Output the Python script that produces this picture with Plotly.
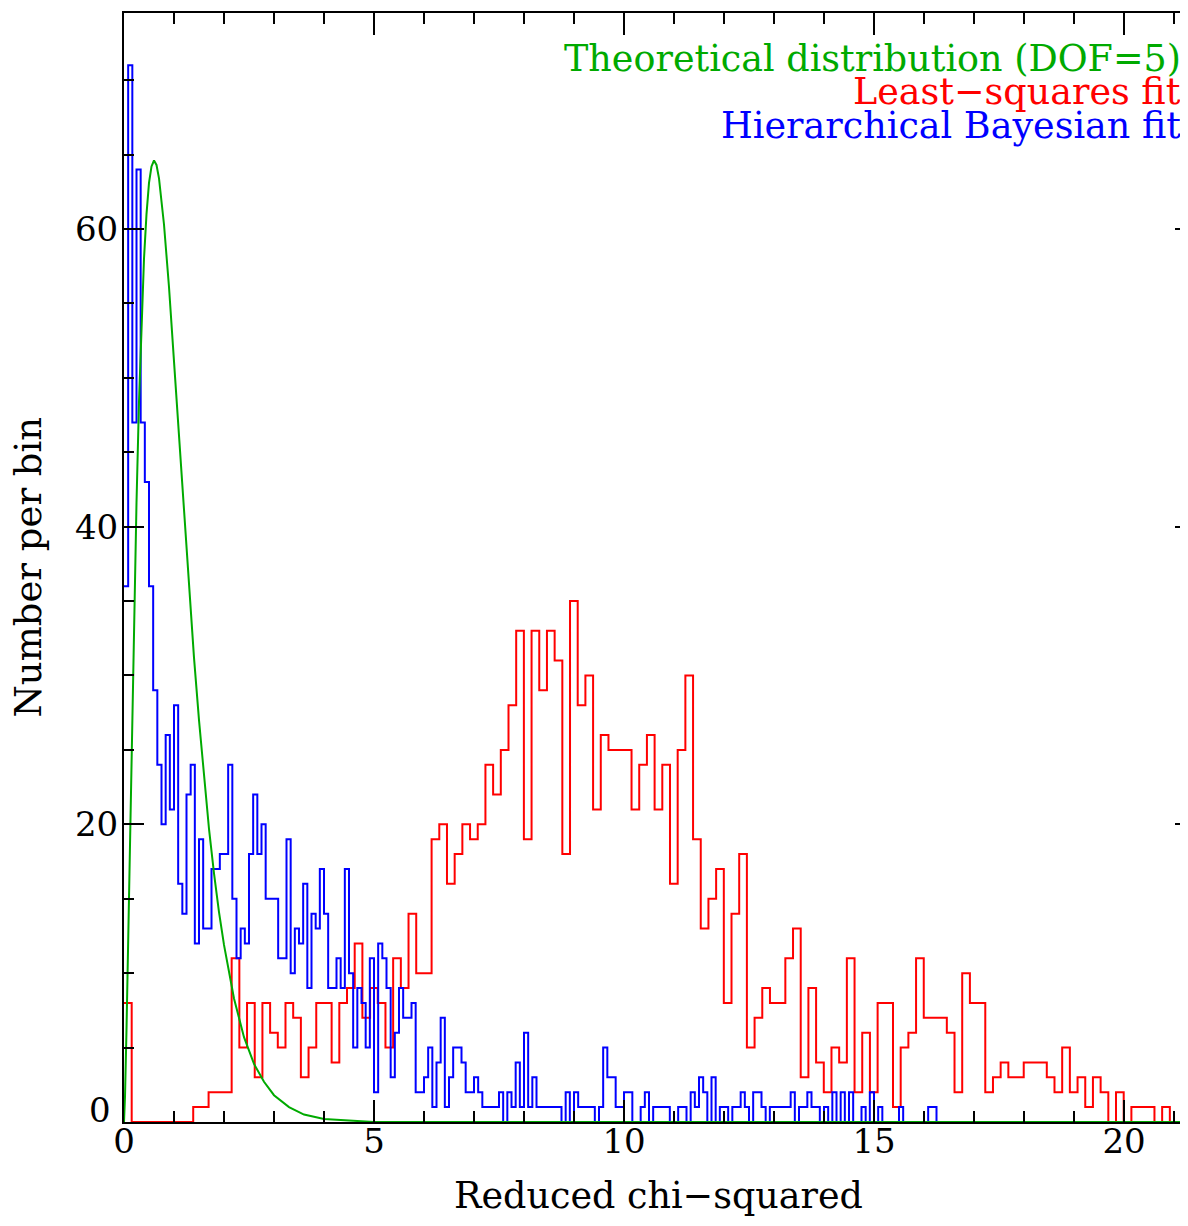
import plotly.graph_objects as go

# ---------------- data ----------------
RED_BIN = 0.1538      # bin width of least-squares histogram
BLUE_BIN = 1.0 / 12   # bin width of hierarchical Bayesian histogram

red_counts = [
    8, 0, 0, 0, 0, 0, 0, 0, 0, 1,
    1, 2, 2, 2, 11, 5, 8, 3, 8, 6,
    5, 8, 7, 3, 5, 8, 8, 4, 8, 9,
    12, 7, 9, 8, 5, 11, 9, 14, 10, 10,
    19, 20, 16, 18, 20, 19, 20, 24, 22, 25,
    28, 33, 19, 33, 29, 33, 31, 18, 35, 28,
    30, 21, 26, 25, 25, 25, 21, 24, 26, 21,
    24, 16, 25, 30, 19, 13, 15, 17, 8, 14,
    18, 5, 7, 9, 8, 8, 11, 13, 3, 9,
    4, 2, 5, 4, 11, 2, 6, 2, 8, 8,
    1, 5, 6, 11, 7, 7, 7, 6, 2, 10,
    8, 8, 2, 3, 4, 3, 3, 4, 4, 4,
    3, 2, 5, 2, 3, 1, 3, 2, 0, 2,
    0, 1, 1, 1, 0, 1, 0, 0, 0,
]

blue_counts = [
    36, 71, 47, 64, 47, 43, 36, 29, 24, 20,
    26, 21, 28, 16, 14, 22, 24, 12, 19, 13,
    13, 17, 17, 18, 18, 24, 15, 11, 13, 12,
    18, 22, 18, 20, 15, 15, 15, 11, 11, 19,
    10, 13, 12, 16, 9, 14, 13, 17, 14, 9,
    9, 11, 9, 17, 10, 5, 9, 8, 5, 11,
    2, 12, 11, 9, 3, 6, 9, 7, 7, 8,
    2, 2, 3, 5, 1, 4, 7, 1, 3, 5,
    5, 4, 2, 2, 3, 2, 1, 1, 1, 1,
    2, 0, 2, 1, 4, 1, 6, 1, 3, 1,
    1, 1, 1, 1, 1, 0, 2, 0, 2, 1,
    1, 1, 1, 0, 1, 5, 3, 3, 1, 1,
    2, 2, 0, 0, 1, 2, 0, 1, 1, 1,
    1, 0, 0, 1, 1, 0, 2, 1, 3, 2,
    0, 3, 0, 1, 1, 0, 1, 1, 2, 1,
    0, 2, 2, 1, 0, 1, 1, 1, 1, 1,
    2, 0, 1, 1, 2, 1, 1, 0, 1, 0,
    2, 0, 2, 0, 2, 0, 0, 1, 0, 2,
    0, 1, 0, 0, 0, 0, 1, 0, 0, 0,
    0, 0, 0, 1, 1, 0,
]

# theoretical curve (DOF=5)
theory_x = [0.00, 0.02, 0.05, 0.10, 0.15, 0.20, 0.25, 0.30, 0.35, 0.40,
            0.45, 0.50, 0.55, 0.60, 0.65, 0.70, 0.80, 0.90, 1.00, 1.10,
            1.20, 1.30, 1.40, 1.50, 1.60, 1.70, 1.80, 1.90, 2.00, 2.20,
            2.40, 2.60, 2.80, 3.00, 3.30, 3.60, 4.00, 4.50, 5.00, 21.3]
theory_y = [0.0, 1.7, 6.2, 15.3, 24.9, 33.8, 41.6, 48.4, 53.7, 58.0,
            61.0, 63.1, 64.2, 64.6, 64.3, 63.4, 60.3, 56.1, 51.1, 46.0,
            40.8, 35.9, 31.2, 27.0, 23.1, 19.7, 16.7, 14.1, 11.9, 8.3,
            5.7, 3.9, 2.7, 1.8, 1.0, 0.5, 0.2, 0.1, 0.0, 0.0]

x_ticks = [0, 5, 10, 15, 20]
y_ticks = [0, 20, 40, 60]
legend_labels = ["Theoretical distribution (DOF=5)", "Least\u2212squares fit",
                 "Hierarchical Bayesian fit"]
x_title = "Reduced chi\u2212squared"
y_title = "Number per bin"

X_MAX = 21.28
Y_MAX = 74.51

# ---------------- build step outlines ----------------
def steps(counts, width):
    xs = [i * width for i in range(len(counts) + 1)]
    ys = list(counts) + [counts[-1]]
    return xs, ys

rx, ry = steps(red_counts, RED_BIN)
rx.append(X_MAX + 1)
ry.append(0)
bx, by = steps(blue_counts, BLUE_BIN)

GREEN = "#00AA00"
FONT = "DejaVu Serif"

fig = go.Figure()
fig.add_trace(go.Scatter(x=rx, y=ry, mode="lines", line=dict(color="#FF0000", width=2, shape="hv"),
                         showlegend=False, hoverinfo="skip"))
fig.add_trace(go.Scatter(x=bx, y=by, mode="lines", line=dict(color="#0000FF", width=2, shape="hv"),
                         showlegend=False, hoverinfo="skip"))
fig.add_trace(go.Scatter(x=theory_x, y=theory_y, mode="lines", line=dict(color=GREEN, width=2),
                         showlegend=False, hoverinfo="skip"))
# carrier for the right-hand tick axis
fig.add_trace(go.Scatter(x=[theory_x[0]], y=[theory_y[0]], yaxis="y2", mode="markers",
                         marker=dict(opacity=0), showlegend=False, hoverinfo="skip"))

axis_font = dict(family=FONT, size=34, color="black")

# y tick labels: the lowest one ("0") is drawn lifted and to the left, as in the reference
y_lab_vals = y_ticks[1:]

# the page body has an 8 px margin, so the figure is 8 px smaller than the window
fig.update_layout(
    width=1180, height=1218,
    margin=dict(l=116, r=0, t=5, b=104),
    paper_bgcolor="white", plot_bgcolor="white",
    font=dict(family=FONT, color="black"),
    xaxis=dict(range=[0, X_MAX], tickvals=x_ticks, ticktext=[str(v) for v in x_ticks],
               showline=True, linecolor="black", linewidth=2, mirror="ticks",
               ticks="inside", ticklen=22, tickwidth=2, tickcolor="black",
               minor=dict(ticks="inside", ticklen=11, tickwidth=2, tickcolor="black", dtick=1),
               showgrid=False, zeroline=False, tickfont=axis_font, ticklabelstandoff=-12),
    yaxis=dict(range=[0, Y_MAX], tickvals=y_lab_vals, ticktext=[str(v) for v in y_lab_vals],
               showline=True, linecolor="black", linewidth=2, mirror=False,
               ticks="inside", ticklen=20, tickwidth=2, tickcolor="black",
               minor=dict(ticks="inside", ticklen=10, tickwidth=2, tickcolor="black", dtick=5),
               showgrid=False, zeroline=False, tickfont=axis_font, ticklabelstandoff=-3),
    yaxis2=dict(range=[0, Y_MAX], overlaying="y", side="right", showline=False,
                tickvals=y_ticks, showticklabels=False,
                ticks="inside", ticklen=13, tickwidth=2, tickcolor="black",
                minor=dict(ticks="inside", ticklen=3, tickwidth=2, tickcolor="black", dtick=5),
                showgrid=False, zeroline=False),
)

fig.add_annotation(text=str(y_ticks[0]), xref="paper", yref="y", x=0, y=y_ticks[0],
                   xanchor="center", yanchor="middle", xshift=-24, yshift=12,
                   showarrow=False, font=axis_font)

legend_colors = [GREEN, "#FF0000", "#0000FF"]
legend_y = [0.9594, 0.9288, 0.8990]
for txt, col, yy in zip(legend_labels, legend_colors, legend_y):
    fig.add_annotation(text=txt, xref="paper", yref="paper", x=0.9953, y=yy,
                       xanchor="right", yanchor="middle", showarrow=False,
                       font=dict(family=FONT, size=36.5, color=col))

fig.add_annotation(text=x_title, xref="paper", yref="paper", x=0.5023, y=0,
                   xanchor="center", yanchor="middle", yshift=-73, showarrow=False,
                   font=dict(family=FONT, size=36.5, color="black"))
fig.add_annotation(text=y_title, xref="paper", yref="paper", x=0, y=0.5,
                   xanchor="center", yanchor="middle", xshift=-96, textangle=-90,
                   showarrow=False, font=dict(family=FONT, size=37, color="black"))

fig.write_html("out.html")
